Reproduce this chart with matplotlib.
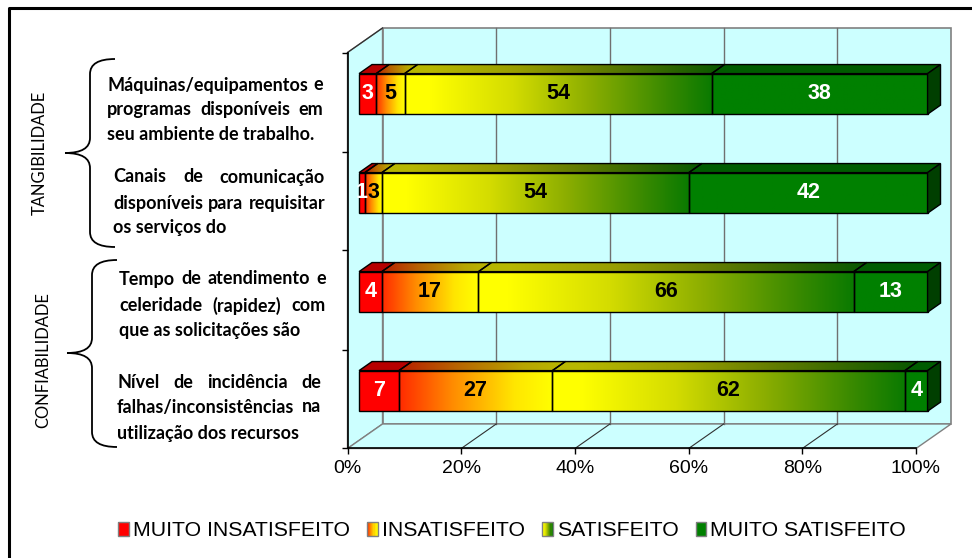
import matplotlib
matplotlib.use("Agg")
import matplotlib.pyplot as plt
import numpy as np
from matplotlib.colors import LinearSegmentedColormap, ListedColormap
from matplotlib.patches import Polygon, Rectangle, Patch, PathPatch
from matplotlib.path import Path
from matplotlib.legend_handler import HandlerBase

plt.rcParams['font.family'] = ['Liberation Sans', 'DejaVu Sans']

""" Data """
items = [
    ["Máquinas/equipamentos e", "programas disponíveis em", "seu ambiente de trabalho."],
    ["Canais de comunicação", "disponíveis para requisitar", "os serviços do"],
    ["Tempo de atendimento e", "celeridade (rapidez) com", "que as solicitações são"],
    ["Nível de incidência de", "falhas/inconsistências na", "utilização dos recursos"],
]
groups = ["TANGIBILIDADE", "CONFIABILIDADE"]
levels = ["MUITO INSATISFEITO", "INSATISFEITO", "SATISFEITO", "MUITO SATISFEITO"]
muito_insatisfeito = [3, 1, 4, 7]
insatisfeito = [5, 3, 17, 27]
satisfeito = [54, 54, 66, 62]
muito_satisfeito = [38, 42, 13, 4]
xticks = [0, 20, 40, 60, 80, 100]
xtick_labels = ["0%", "20%", "40%", "60%", "80%", "100%"]

series = [muito_insatisfeito, insatisfeito, satisfeito, muito_satisfeito]

""" Colours """
red_cm = ListedColormap(['#FF0000'])
ins_cm = LinearSegmentedColormap.from_list('ins', [(0, '#FF2A00'), (0.35, '#FF8C00'),
                                                   (0.75, '#FFE600'), (1, '#FFFF00')])
sat_cm = LinearSegmentedColormap.from_list('sat', [(0, '#FFFF00'), (0.08, '#FFFF00'),
                                                   (0.35, '#D4DC00'), (0.6, '#8CAE00'),
                                                   (0.85, '#3A8A00'), (1, '#0A7A00')])
green_cm = ListedColormap(['#008000'])
cmaps = [red_cm, ins_cm, sat_cm, green_cm]
label_colors = ['white', 'black', 'black', 'white']
WALL = '#CCFFFF'

""" 3D geometry (data units) """
DX, DY = 6.16, 0.2475      # depth of the box
F0, F1 = 0.33, 0.70        # bar front / back depth fraction
BAR_H = 0.41
XMIN, XMAX, YTOP, YBOT = -2, 108, -0.85, 3.6

fig = plt.figure(figsize=(9.72, 5.58), dpi=100)
fig.patch.set_facecolor('white')

# layout overlay in pixel units
lay = fig.add_axes([0, 0, 1, 1])
lay.set_xlim(0, 972)
lay.set_ylim(558, 0)
lay.axis('off')


def px_x(x):
    return 347.5 + 5.685 * x


def px_y(y):
    return 52.5 + 99 * (y + 0.5)


left, right = px_x(XMIN) / 972, px_x(XMAX) / 972
top, bottom = 1 - px_y(YTOP) / 558, 1 - px_y(YBOT) / 558
ax = fig.add_axes([left, bottom, right - left, top - bottom])
ax.set_xlim(XMIN, XMAX)
ax.set_ylim(YBOT, YTOP)
ax.autoscale(False)
ax.patch.set_visible(False)

for s in ['top', 'right']:
    ax.spines[s].set_visible(False)
ax.spines['left'].set_position(('data', 0))
ax.spines['left'].set_bounds(-0.5, 3.5)
ax.spines['bottom'].set_position(('data', 3.5))
ax.spines['bottom'].set_bounds(0, 100)
for s in ['left', 'bottom']:
    ax.spines[s].set_linewidth(1.2)
    ax.spines[s].set_zorder(6)
ax.set_xticks(xticks)
ax.set_xticklabels(xtick_labels, fontsize=14)
ax.set_yticks([-0.5, 0.5, 1.5, 2.5, 3.5])
ax.set_yticklabels([])
ax.tick_params(direction='out', length=4, width=1, pad=4)

""" Walls """
ax.add_patch(Polygon([(DX, 3.5 - DY), (100 + DX, 3.5 - DY), (100 + DX, -0.5 - DY), (DX, -0.5 - DY)],
                     facecolor=WALL, edgecolor='#808080', lw=1.2, zorder=0.5))
ax.add_patch(Polygon([(0, 3.5), (DX, 3.5 - DY), (DX, -0.5 - DY), (0, -0.5)],
                     facecolor=WALL, edgecolor='#808080', lw=1.0, zorder=0.6))
ax.add_patch(Polygon([(0, 3.5), (100, 3.5), (100 + DX, 3.5 - DY), (DX, 3.5 - DY)],
                     facecolor=WALL, edgecolor='#808080', lw=1.0, zorder=0.6))
ax.plot([0, DX], [-0.5, -0.5 - DY], color='#303030', lw=0.9, zorder=0.8)
for t in xticks[1:-1]:
    ax.plot([t + DX, t + DX], [3.5 - DY, -0.5 - DY], color='#707070', lw=1.0, zorder=0.8)
    ax.plot([t, t + DX], [3.5, 3.5 - DY], color='#303030', lw=0.8, zorder=0.8)

""" Bars """
ddx, ddy = DX * (F1 - F0), DY * (F1 - F0)
grad = np.linspace(0, 1, 256)

for i in range(len(items)):
    start = 0
    for k, vals in enumerate(series):
        w = vals[i]
        x0 = start + DX * F0
        x1 = x0 + w
        yc = i - DY * F0
        yt, yb = yc - BAR_H / 2, yc + BAR_H / 2
        z = 2 + i * 0.1
        cols = cmaps[k](grad)[:, :3]

        im = ax.imshow(cols[None], extent=[x0, x1, yb, yt], aspect='auto',
                       interpolation='bilinear', zorder=z)
        ax.add_patch(Rectangle((x0, yt), w, BAR_H, fill=False, edgecolor='black',
                               lw=1.0, zorder=z + 0.05))

        top_face = Polygon([(x0, yt), (x1, yt), (x1 + ddx, yt - ddy), (x0 + ddx, yt - ddy)],
                           closed=True, fill=False, edgecolor='black', lw=1.0, zorder=z + 0.05)
        ax.add_patch(top_face)
        im2 = ax.imshow(cols[None] * 0.72, extent=[x0, x1 + ddx, yt, yt - ddy], aspect='auto',
                        interpolation='bilinear', zorder=z)
        im2.set_clip_path(top_face)

        if k == len(series) - 1:
            ax.add_patch(Polygon([(x1, yb), (x1, yt), (x1 + ddx, yt - ddy), (x1 + ddx, yb - ddy)],
                                 closed=True, facecolor='#003F00', edgecolor='black',
                                 lw=1.0, zorder=z + 0.05))

        ax.text(x0 + w / 2, yc, str(w), ha='center', va='center', fontsize=15.5,
                fontweight='bold', color=label_colors[k], zorder=5)
        start += w

""" Left side labels """
renderer = fig.canvas.get_renderer()
lab_font = dict(family=['Lato', 'DejaVu Sans'], weight='bold')
probe = lay.text(0, 0, items[0][2], fontsize=12, **lab_font)
lab_size = 12 * 206 / probe.get_window_extent(renderer).width
probe.remove()

blocks = [(107, 323, [85, 109.5, 134]), (113, 325, [177, 203, 228]),
          (119, 326, [279, 305.5, 330.5]), (117, 321, [382, 407, 433])]

for lines, (bx0, bx1, ys) in zip(items, blocks):
    for j, (line, y) in enumerate(zip(lines, ys)):
        if j == len(lines) - 1:
            lay.text(bx0, y, line, fontsize=lab_size, va='center', ha='left', **lab_font)
            continue
        words = line.split()
        texts = [lay.text(0, y, wd, fontsize=lab_size, va='center', ha='left', **lab_font)
                 for wd in words]
        widths = [t.get_window_extent(renderer).width for t in texts]
        gap = (bx1 - bx0 - sum(widths)) / (len(words) - 1)
        x = bx0
        for t, wdt in zip(texts, widths):
            t.set_x(x)
            x += wdt + gap

grp_font = dict(family=['Lato', 'DejaVu Sans'])
probe = lay.text(0, 0, groups[0], fontsize=12, **grp_font)
grp_size = 12 * 124 / probe.get_window_extent(renderer).width
probe.remove()
lay.text(40, 153, groups[0], rotation=90, ha='center', va='center', fontsize=grp_size, **grp_font)
lay.text(43, 360, groups[1], rotation=90, ha='center', va='center', fontsize=grp_size, **grp_font)


def brace(x_end, x_mid, x_tip, y_top, y_tip, y_bot, r=15):
    verts = [(x_end, y_top), (x_mid, y_top), (x_mid, y_top + r),
             (x_mid, y_tip - r), (x_mid, y_tip), (x_tip, y_tip),
             (x_mid, y_tip), (x_mid, y_tip + r),
             (x_mid, y_bot - r), (x_mid, y_bot), (x_end, y_bot)]
    codes = [Path.MOVETO, Path.CURVE3, Path.CURVE3, Path.LINETO, Path.CURVE3, Path.CURVE3,
             Path.CURVE3, Path.CURVE3, Path.LINETO, Path.CURVE3, Path.CURVE3]
    lay.add_patch(PathPatch(Path(verts, codes), fill=False, edgecolor='black', lw=1.3))


brace(115, 90, 65, 59, 153, 247)
brace(117, 92, 67, 260, 353, 447)

# outer frame
lay.plot([8.5, 8.5, 972], [558, 7.5, 7.5], color='black', lw=2.2, solid_capstyle='butt')

""" Legend """


class GradHandler(HandlerBase):
    def __init__(self, cmap):
        super().__init__()
        self.cmap = cmap

    def create_artists(self, legend, orig_handle, xdescent, ydescent, width, height,
                       fontsize, trans):
        n = 10
        arts = [Rectangle((-xdescent + width * j / n, -ydescent), width / n, height,
                          facecolor=self.cmap(j / (n - 1)), edgecolor='none', transform=trans)
                for j in range(n)]
        arts.append(Rectangle((-xdescent, -ydescent), width, height, facecolor='none',
                              edgecolor='#808080', lw=1.0, transform=trans))
        return arts


handles = [Patch(label=l) for l in levels]
fig.legend(handles, levels, loc='center', bbox_to_anchor=(0.527, 0.0484), ncol=4,
           frameon=False, fontsize=15.3, handlelength=0.5, handleheight=0.65,
           handletextpad=0.2, columnspacing=0.8,
           handler_map={h: GradHandler(c) for h, c in zip(handles, cmaps)})

fig.savefig('out.png', dpi=100)
